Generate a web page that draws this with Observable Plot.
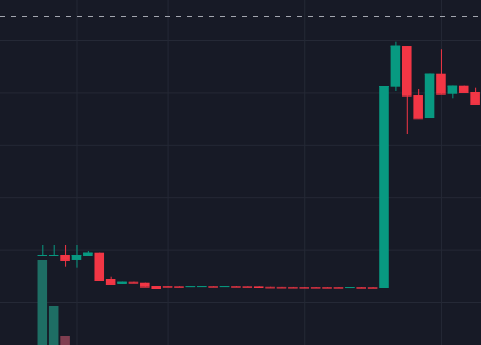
<!DOCTYPE html>
<html>
<head>
<meta charset="utf-8">
<script src="https://cdn.jsdelivr.net/npm/d3@7"></script>
<script src="https://cdn.jsdelivr.net/npm/@observablehq/plot@0.6"></script>
<style>
  html, body { margin: 0; padding: 0; background: #171a26; }
  #chart { position: relative; width: 481px; height: 345px; overflow: hidden; background: #171a26; }
  #chart svg { position: absolute; left: 0; top: 0; }
</style>
</head>
<body>
<div id="chart"></div>
<script>
// Candle data (index = bar number)
const opens  = [1.896, 1.896, 1.897, 1.802, 1.878, 1.941, 1.439, 1.344, 1.387, 1.368,
                1.305, 1.305, 1.300, 1.290, 1.292, 1.303, 1.292, 1.303, 1.300, 1.298,
                1.290, 1.288, 1.287, 1.286, 1.286, 1.285, 1.285, 1.274, 1.285, 1.283,
                1.267, 5.109, 5.885, 4.950, 4.511, 5.357, 4.975, 5.128, 5.008];
const highs  = [2.088, 2.088, 2.088, 2.088, 1.973, 1.941, 1.483, 1.387, 1.387, 1.368,
                1.305, 1.305, 1.300, 1.302, 1.303, 1.303, 1.303, 1.303, 1.300, 1.298,
                1.290, 1.288, 1.287, 1.286, 1.286, 1.285, 1.285, 1.285, 1.285, 1.283,
                5.122, 5.968, 5.885, 5.065, 5.357, 5.823, 5.128, 5.128, 5.090];
const lows   = [1.896, 1.896, 1.674, 1.655, 1.878, 1.420, 1.344, 1.344, 1.368, 1.292,
                1.267, 1.292, 1.290, 1.290, 1.292, 1.292, 1.292, 1.292, 1.290, 1.286,
                1.278, 1.277, 1.276, 1.275, 1.275, 1.274, 1.274, 1.274, 1.273, 1.272,
                1.267, 5.027, 4.206, 4.506, 4.511, 4.975, 4.887, 5.008, 4.779];
const closes = [1.897, 1.897, 1.802, 1.897, 1.941, 1.420, 1.344, 1.387, 1.368, 1.292,
                1.267, 1.292, 1.290, 1.302, 1.303, 1.292, 1.303, 1.292, 1.290, 1.286,
                1.278, 1.277, 1.276, 1.275, 1.275, 1.274, 1.274, 1.285, 1.273, 1.272,
                5.122, 5.891, 4.937, 4.506, 5.357, 4.975, 5.128, 5.008, 4.779];
const volumes = [100, 54, 24, 10, 8, 12, 9, 5, 4, 6,
                 5, 3, 3, 2, 2, 3, 2, 3, 2, 3,
                 2, 2, 2, 2, 2, 2, 2, 2, 2, 2,
                 14, 12, 13, 10, 11, 9, 7, 6, 8];
const timeTicks = [3, 11, 23, 35];
const priceTicks = [1, 2, 3, 4, 5, 6];
const priceLine = [6.458];

const data = opens.map((o, i) => ({
  i, open: o, high: highs[i], low: lows[i], close: closes[i], volume: volumes[i],
  up: closes[i] >= o
}));

const UP = "#089981", DOWN = "#f23645";
const UPV = "#1e6e64", DOWNV = "#7f3e50";
const GRID = "#252936";
const HW = 0.42;
const xDomain = [-3.714, 38.516];
const yDomain = [0.1794, 6.7634];

const common = {
  width: 481, height: 345,
  marginTop: 0, marginRight: 0, marginBottom: 0, marginLeft: 0,
  style: { background: "transparent", overflow: "hidden" }
};

// Grid layer (bottom)
const grid = Plot.plot({
  ...common,
  x: { domain: xDomain, range: [0, 481], axis: null },
  y: { domain: yDomain, axis: null },
  marks: [
    Plot.ruleY(priceTicks, { stroke: GRID, strokeWidth: 1 }),
    Plot.ruleX(timeTicks, { stroke: GRID, strokeWidth: 1 })
  ]
});

// Volume pane
const vol = Plot.plot({
  ...common,
  x: { domain: xDomain, range: [0, 481], axis: null },
  y: { domain: [0, 100], range: [360, 260], axis: null },
  marks: [
    Plot.rect(data, { filter: d => d.up, x1: d => d.i - HW, x2: d => d.i + HW, y1: 0, y2: "volume", fill: UPV }),
    Plot.rect(data, { filter: d => !d.up, x1: d => d.i - HW, x2: d => d.i + HW, y1: 0, y2: "volume", fill: DOWNV })
  ]
});

// Price pane
const price = Plot.plot({
  ...common,
  x: { domain: xDomain, range: [0, 481], axis: null },
  y: { domain: yDomain, axis: null },
  marks: [
    Plot.ruleY(priceLine, { stroke: "#a3a6af", strokeWidth: 1, strokeDasharray: "5,6" }),
    Plot.ruleX(data, { filter: d => d.up, x: "i", y1: "low", y2: "high", stroke: UP, strokeWidth: 1 }),
    Plot.ruleX(data, { filter: d => !d.up, x: "i", y1: "low", y2: "high", stroke: DOWN, strokeWidth: 1 }),
    Plot.rect(data, { filter: d => d.up, x1: d => d.i - HW, x2: d => d.i + HW, y1: "open", y2: "close", fill: UP }),
    Plot.rect(data, { filter: d => !d.up, x1: d => d.i - HW, x2: d => d.i + HW, y1: "open", y2: "close", fill: DOWN }),
    Plot.ruleY(data, { filter: d => d.up, y: "close", x1: d => d.i - HW, x2: d => d.i + HW, stroke: UP, strokeWidth: 1 }),
    Plot.ruleY(data, { filter: d => !d.up, y: "close", x1: d => d.i - HW, x2: d => d.i + HW, stroke: DOWN, strokeWidth: 1 })
  ]
});

const chart = document.getElementById("chart");
chart.appendChild(grid);
chart.appendChild(vol);
chart.appendChild(price);
</script>
</body>
</html>
